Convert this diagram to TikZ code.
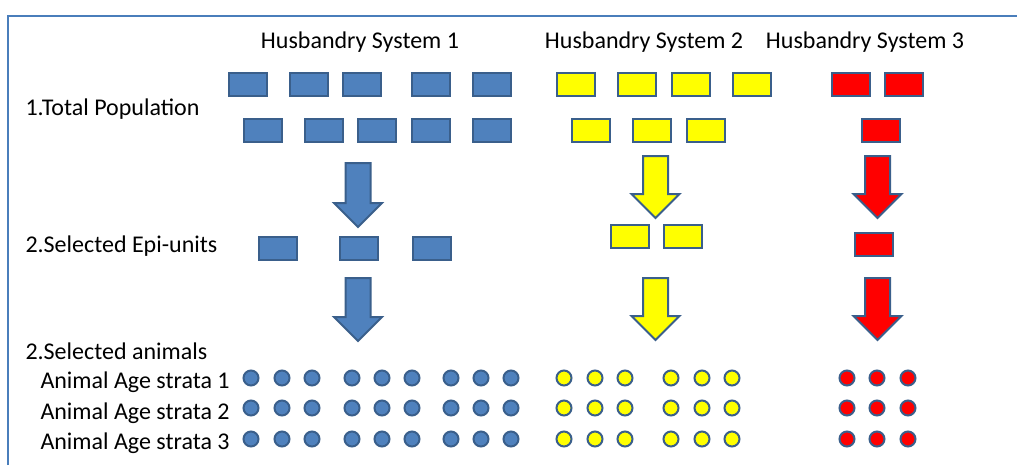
\documentclass[tikz,border=0pt]{standalone}
\usepackage{fontspec}
\setmainfont{Carlito}
\definecolor{unitblue}{HTML}{4F81BD}
\definecolor{unitedge}{HTML}{3A5F8B}
\definecolor{framblue}{HTML}{4A7EBB}
\definecolor{unityellow}{HTML}{FFFF00}
\definecolor{unitred}{HTML}{FF0000}
\tikzset{every picture/.style={line width=0.75pt}}
\tikzset{
  unit/.style={draw=unitedge, line width=1.5pt, rectangle, minimum width=28.5pt, minimum height=17.25pt, inner sep=0pt},
  animal/.style={draw=unitedge, line width=1.5pt, circle, minimum size=11.25pt, inner sep=0pt},
  arrowline/.style={draw=unitedge, line width=1.5pt},
  label/.style={anchor=base west, inner sep=0pt},
  syslabel/.style={anchor=base, inner sep=0pt}
}
% down block arrow: fill, x centre, top, tip
\newcommand{\blockarrow}[4]{\draw[arrowline, fill=#1] (#2-12.5,#3) -- (#2+12.5,#3) -- (#2+12.5,#4-24) -- (#2+24,#4-24) -- (#2,#4) -- (#2-24,#4-24) -- (#2-12.5,#4-24) -- cycle ;}

\begin{document}
\begin{tikzpicture}[x=0.75pt,y=0.75pt,yscale=-1,xscale=1,font=\fontsize{18pt}{22pt}\selectfont]
\useasboundingbox (0,0) rectangle (1017,465);

%Frame
\draw [color=framblue, line width=1.5pt]  (8,465) -- (8,16) -- (1017,16) ;

% Text Node
\node [syslabel] (hs1) at (360,48) {Husbandry System 1};
\node [syslabel] (hs2) at (644,48) {Husbandry System 2};
\node [syslabel] (hs3) at (865,48) {Husbandry System 3};
\node [label] (totpop) at (25,115) {1.Total Population};
\node [label] (selepi) at (25,252) {2.Selected Epi-units};
\node [label] (selani) at (25,359) {2.Selected animals};
\node [label] (strata1) at (40,388) {Animal Age strata 1};
\node [label] (strata2) at (40,419) {Animal Age strata 2};
\node [label] (strata3) at (40,449) {Animal Age strata 3};

%Shape: Rectangle (total population)
\foreach \x [count=\i] in {248,309,362,431,492} \node [unit, fill=unitblue] (bt1\i) at (\x,84.5) {};
\foreach \x [count=\i] in {263,324,377,431,492} \node [unit, fill=unitblue] (bt2\i) at (\x,130.5) {};
\foreach \x [count=\i] in {576,637,691,752} \node [unit, fill=unityellow] (yt1\i) at (\x,84.5) {};
\foreach \x [count=\i] in {591,652,705.5} \node [unit, fill=unityellow] (yt2\i) at (\x,130.5) {};
\foreach \x [count=\i] in {851,904} \node [unit, fill=unitred] (rt1\i) at (\x,84.5) {};
\node [unit, fill=unitred] (rt21) at (881,130.5) {};

%Shape: Rectangle (selected epi-units)
\foreach \x [count=\i] in {278,359,432} \node [unit, fill=unitblue] (be\i) at (\x,248.5) {};
\foreach \x [count=\i] in {629.5,683} \node [unit, fill=unityellow] (ye\i) at (\x,236.5) {};
\node [unit, fill=unitred] (re1) at (873.5,244.5) {};

%Shape: Down Arrow
\blockarrow{unitblue}{358}{163}{227}
\blockarrow{unityellow}{655.5}{156}{218}
\blockarrow{unitred}{877.5}{156}{218}
\blockarrow{unitblue}{358}{278}{341}
\blockarrow{unityellow}{655.5}{278}{340}
\blockarrow{unitred}{877.5}{278}{340}

%Shape: Circle (selected animals)
\foreach \y [count=\j] in {378,408,439} {
  \foreach \x [count=\i] in {251,282,312,352,382,412,451,481,511} \node [animal, fill=unitblue] (ba\j\i) at (\x,\y) {};
  \foreach \x [count=\i] in {564,595,625,671,702,732} \node [animal, fill=unityellow] (ya\j\i) at (\x,\y) {};
  \foreach \x [count=\i] in {847,877,908} \node [animal, fill=unitred] (ra\j\i) at (\x,\y) {};
}

\end{tikzpicture}
\end{document}
